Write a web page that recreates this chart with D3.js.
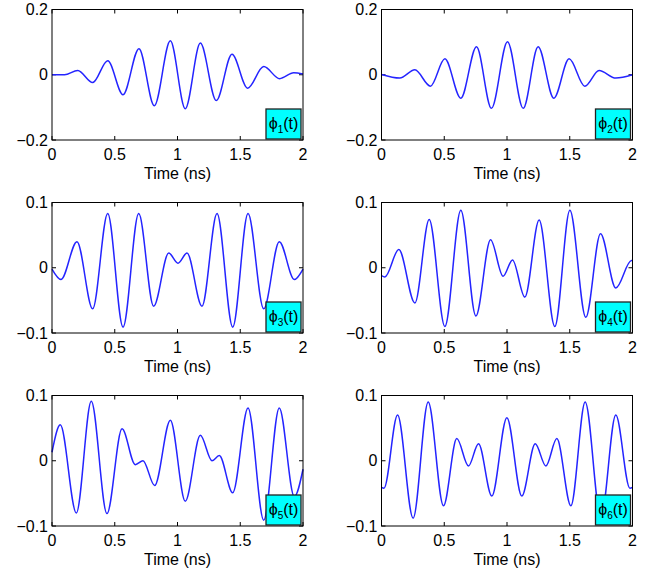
<!DOCTYPE html>
<html>
  <head>
    <meta charset="utf-8">
    <script src="https://d3js.org/d3.v7.min.js"></script>
    <style>
      body { margin: 0; background: #fff; }
      svg { display: block; font-family: "Liberation Sans", Arial, sans-serif; }
      .tick-label { font-size: 16px; fill: #000; }
      .xlabel { font-size: 16px; fill: #000; }
      .legend-text { font-size: 16px; fill: #000; }
    </style>
  </head>
  <body>
    <svg id="chart" width="661" height="571"></svg>
    <script>
      // peaks / troughs, [time in ns, value]
      const phi1 = [[0,0],[0.1,0],[0.205,0.013],[0.324,-0.024],[0.444,0.043],[0.566,-0.061],[0.693,0.080],
        [0.815,-0.095],[0.943,0.104],[1.062,-0.104],[1.182,0.097],[1.309,-0.079],[1.434,0.063],[1.559,-0.041],
        [1.687,0.025],[1.814,-0.012],[1.926,0.006],[2,0.002]]
      const phi2 = [[0,0.001],[0.146,-0.010],[0.266,0.015],[0.39,-0.035],[0.505,0.049],[0.632,-0.072],[0.757,0.086],
        [0.876,-0.103],[1.004,0.101],[1.129,-0.103],[1.248,0.086],[1.373,-0.072],[1.495,0.049],[1.62,-0.035],
        [1.734,0.013],[1.867,-0.010],[2,0]]
      const phi3 = [[0,-0.002],[0.072,-0.018],[0.199,0.040],[0.324,-0.063],[0.444,0.083],[0.566,-0.091],[0.691,0.083],
        [0.810,-0.059],[0.930,0.0225],[1.004,0.007],[1.076,0.0225],[1.195,-0.059],[1.315,0.083],[1.44,-0.091],
        [1.562,0.083],[1.687,-0.063],[1.811,0.040],[1.931,-0.018],[2,-0.002]]
      const phi4 = [[0,-0.012],[0.027,-0.014],[0.138,0.028],[0.266,-0.054],[0.38,0.074],[0.505,-0.090],[0.632,0.088],
        [0.752,-0.074],[0.869,0.043],[0.969,-0.013],[1.044,0.012],[1.142,-0.045],[1.256,0.073],[1.381,-0.090],
        [1.501,0.088],[1.628,-0.076],[1.745,0.052],[1.867,-0.031],[1.992,0.011],[2,0.011]]
      const phi5 = [[0,0.013],[0.066,0.055],[0.194,-0.080],[0.313,0.091],[0.438,-0.081],[0.558,0.049],[0.664,-0.006],
        [0.725,0.000],[0.818,-0.038],[0.943,0.062],[1.062,-0.062],[1.182,0.039],[1.275,0.000],[1.333,0.008],
        [1.44,-0.049],[1.562,0.081],[1.687,-0.091],[1.811,0.081],[1.931,-0.055],[2,-0.013]]
      const phi6 = [[0,-0.041],[0.02,-0.042],[0.128,0.070],[0.252,-0.088],[0.372,0.090],[0.494,-0.069],[0.6,0.034],
        [0.693,-0.008],[0.773,0.026],[0.879,-0.054],[0.999,0.066],[1.118,-0.054],[1.225,0.026],[1.31,-0.008],
        [1.397,0.034],[1.509,-0.069],[1.623,0.090],[1.748,-0.088],[1.867,0.070],[1.979,-0.042],[2,-0.041]]

      const series = [phi1, phi2, phi3, phi4, phi5, phi6]
      const xTicks = [0, 0.5, 1, 1.5, 2]
      const yTicksWide = [-0.2, 0, 0.2]
      const yTicksNarrow = [-0.1, 0, 0.1]

      const svg = d3.select('#chart')
      const pw = 251, ph = 130.5
      const fmt = d => d === 0 ? '0' : String(d).replace('-', '\u2212')

      series.forEach((data, i) => {
        const row = Math.floor(i / 2), col = i % 2
        const left = 52 + col * 329.5
        const top = 9.5 + row * 193
        const yt = row === 0 ? yTicksWide : yTicksNarrow
        const x = d3.scaleLinear().domain([0, 2]).range([0, pw])
        const y = d3.scaleLinear().domain([yt[0], yt[2]]).range([ph, 0])

        const g = svg.append('g').attr('transform', `translate(${left},${top})`)

        g.append('rect').attr('width', pw).attr('height', ph).attr('fill', '#fff')

        // inward ticks, mirrored on all four sides
        const tl = 4
        xTicks.forEach(t => {
          g.append('line').attr('x1', x(t)).attr('x2', x(t)).attr('y1', ph).attr('y2', ph - tl).attr('stroke', '#000')
          g.append('line').attr('x1', x(t)).attr('x2', x(t)).attr('y1', 0).attr('y2', tl).attr('stroke', '#000')
          g.append('text').attr('class', 'tick-label').attr('x', x(t)).attr('y', ph + 20)
            .attr('text-anchor', 'middle').text(fmt(t))
        })
        yt.forEach(t => {
          g.append('line').attr('x1', 0).attr('x2', tl).attr('y1', y(t)).attr('y2', y(t)).attr('stroke', '#000')
          g.append('line').attr('x1', pw).attr('x2', pw - tl).attr('y1', y(t)).attr('y2', y(t)).attr('stroke', '#000')
          g.append('text').attr('class', 'tick-label').attr('x', -4).attr('y', y(t) + 5.5)
            .attr('text-anchor', 'end').text(fmt(t))
        })

        const line = d3.line().x(d => x(d[0])).y(d => y(d[1])).curve(d3.curveMonotoneX)
        g.append('path').datum(data).attr('d', line)
          .attr('fill', 'none').attr('stroke', '#2424ff').attr('stroke-width', 1.5)

        g.append('rect').attr('width', pw).attr('height', ph)
          .attr('fill', 'none').attr('stroke', '#000').attr('stroke-width', 1)

        g.append('text').attr('class', 'xlabel').attr('x', pw / 2).attr('y', ph + 39)
          .attr('text-anchor', 'middle').text('Time (ns)')

        // legend box
        const lw = 35, lh = 30
        const lg = g.append('g').attr('transform', `translate(${pw - lw - 2},${ph - lh - 1})`)
        lg.append('rect').attr('width', lw).attr('height', lh)
          .attr('fill', '#00ffff').attr('stroke', '#222').attr('stroke-width', 1.3)
        const txt = lg.append('text').attr('class', 'legend-text').attr('x', lw / 2).attr('y', 20)
          .attr('text-anchor', 'middle')
        txt.append('tspan').text('\u03D5')
        txt.append('tspan').attr('dy', 4).attr('font-size', 10).text(i + 1)
        txt.append('tspan').attr('dy', -4).text('(t)')
      })
    </script>
  </body>
</html>
